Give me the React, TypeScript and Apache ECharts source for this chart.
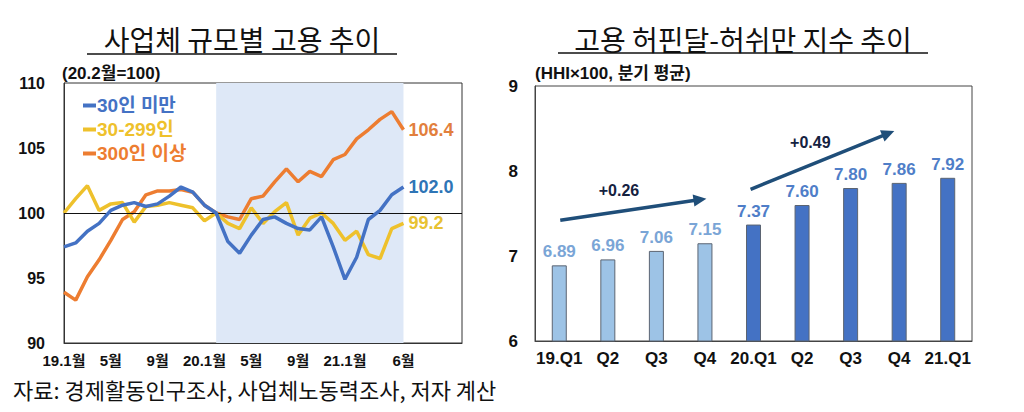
import React, { useEffect, useRef } from "react";
import * as echarts from "echarts";

// ---- Left chart data (index, 20.2 = 100) ----
const months = [
  "19.1", "19.2", "19.3", "19.4", "19.5", "19.6", "19.7", "19.8", "19.9", "19.10", "19.11", "19.12",
  "20.1", "20.2", "20.3", "20.4", "20.5", "20.6", "20.7", "20.8", "20.9", "20.10", "20.11", "20.12",
  "21.1", "21.2", "21.3", "21.4", "21.5", "21.6",
];
const padCategories = ["", "", "", "", ""];
const leftTickIdx = [0, 4, 8, 12, 16, 20, 24, 29];
const leftTickText = ["19.1월", "5월", "9월", "20.1월", "5월", "9월", "21.1월", "6월"];

const under30 = [
  97.4, 97.7, 98.6, 99.2, 100.2, 100.6, 100.8, 100.5, 100.7, 101.3, 102.0, 101.6,
  100.6, 100.0, 97.8, 96.9, 98.3, 99.5, 99.7, 99.2, 98.8, 98.7, 99.7, 97.4,
  94.9, 96.6, 99.5, 100.2, 101.4, 102.0,
];
const from30to299 = [
  100.0, 101.1, 102.1, 100.2, 100.7, 100.8, 99.3, 100.5, 100.6, 100.8, 100.6, 100.4,
  99.4, 100.0, 99.2, 98.8, 100.4, 99.2, 100.1, 100.8, 98.3, 99.6, 100.0, 99.2,
  97.9, 98.6, 96.8, 96.5, 98.8, 99.2,
];
const over300 = [
  93.9, 93.3, 95.1, 96.4, 97.9, 99.5, 100.1, 101.4, 101.7, 101.7, 101.8, 101.6,
  100.6, 100.0, 99.7, 99.5, 101.1, 101.3, 102.4, 103.4, 102.4, 103.2, 102.8, 104.1,
  104.5, 105.7, 106.4, 107.2, 107.8, 106.4,
];
const leftSeriesNames = ["30인 미만", "30-299인", "300인 이상"];
const leftColors = ["#4472C4", "#EEC12C", "#ED7D31"];
const leftEndLabelColors = ["#2E75B6", "#E8C232", "#E27F3D"];
const covidStart = "20.2";
const covidEnd = "21.6";

// ---- Right chart data (HHI x 100, quarterly average) ----
const quarters = ["19.Q1", "Q2", "Q3", "Q4", "20.Q1", "Q2", "Q3", "Q4", "21.Q1"];
const hhi = [6.89, 6.96, 7.06, 7.15, 7.37, 7.6, 7.8, 7.86, 7.92];
const isCovidQuarter = [false, false, false, false, true, true, true, true, true];
const barColors = { pre: "#9DC3E6", covid: "#4472C4" };
const barLabelColors = { pre: "#7AA5D6", covid: "#4F7EC8" };

// annotation arrows (category index, value)
const arrowFrom = [[0.02, 7.42], [3.94, 7.785]];
const arrowTo = [[3.03, 7.675], [6.9, 8.47]];
const arrowText = ["+0.26", "+0.49"];
const arrowTextPos = [[1.23, 7.77], [5.17, 8.34]];

const numFont = "'Liberation Sans', Arial, 'Noto Sans CJK KR', sans-serif";
const krFont = "'Noto Sans CJK KR', sans-serif";

export default function App() {
  const ref = useRef<HTMLDivElement>(null);

  useEffect(() => {
    if (!ref.current) return;
    const chart = echarts.init(ref.current, null, { renderer: "svg" });
    const leftData = [under30, from30to299, over300];

    const option: any = {
      animation: false,
      backgroundColor: "#ffffff",
      grid: [
        { left: 64, top: 83, width: 398, height: 260, show: true, borderColor: "#333", borderWidth: 1, backgroundColor: "transparent" },
        { left: 535, top: 86, width: 437, height: 255, show: true, borderColor: "#444", borderWidth: 1, backgroundColor: "transparent" },
      ],
      legend: {
        orient: "vertical",
        left: 78,
        top: 91,
        icon: "rect",
        itemWidth: 13,
        itemHeight: 4,
        itemGap: 5,
        selectedMode: false,
        textStyle: { fontSize: 19, fontWeight: "bold", fontFamily: numFont, padding: [0, 0, 0, -4] },
        data: leftSeriesNames.map((n, i) => ({ name: n, textStyle: { color: leftColors[i] } })),
      },
      xAxis: [
        {
          gridIndex: 0,
          type: "category",
          boundaryGap: false,
          data: [...months, ...padCategories],
          axisLine: { show: true, lineStyle: { color: "#333" } },
          axisTick: { show: false },
          axisLabel: {
            interval: 0,
            margin: 10,
            fontSize: 15,
            fontWeight: "bold",
            color: "#111",
            fontFamily: numFont,
            formatter: (_v: string, idx: number) => {
              const k = leftTickIdx.indexOf(idx);
              return k >= 0 ? leftTickText[k] : "";
            },
          },
          splitLine: { show: false },
        },
        {
          gridIndex: 1,
          type: "category",
          data: quarters,
          axisLine: { show: true, lineStyle: { color: "#444" } },
          axisTick: { show: false },
          axisLabel: { interval: 0, margin: 9, fontSize: 17, fontWeight: "bold", color: "#111", fontFamily: numFont },
        },
      ],
      yAxis: [
        {
          gridIndex: 0,
          type: "value",
          min: 90,
          max: 110,
          interval: 5,
          axisLine: { show: true, lineStyle: { color: "#333" } },
          axisTick: { show: false },
          splitLine: { show: false },
          axisLabel: { margin: 19, fontSize: 16, fontWeight: "bold", color: "#111", fontFamily: numFont },
        },
        {
          gridIndex: 1,
          type: "value",
          min: 6,
          max: 9,
          interval: 1,
          axisLine: { show: true, lineStyle: { color: "#444" } },
          axisTick: { show: false },
          splitLine: { show: false },
          axisLabel: { margin: 17, fontSize: 17, fontWeight: "bold", color: "#111", fontFamily: numFont },
        },
      ],
      series: [
        ...leftData.map((d, i) => ({
          name: leftSeriesNames[i],
          type: "line",
          xAxisIndex: 0,
          yAxisIndex: 0,
          data: d,
          symbol: "none",
          lineStyle: { color: leftColors[i], width: 3.5 },
          itemStyle: { color: leftColors[i] },
          z: 3 + (2 - i),
          endLabel: {
            show: true,
            distance: 5,
            formatter: (p: any) => Number(p.value).toFixed(1),
            color: leftEndLabelColors[i],
            fontSize: 18,
            fontWeight: "bold",
            fontFamily: numFont,
          },
          ...(i === 0
            ? {
                markArea: {
                  silent: true,
                  itemStyle: { color: "#DEE8F7" },
                  data: [[{ xAxis: covidStart }, { xAxis: covidEnd }]],
                },
                markLine: {
                  silent: true,
                  symbol: "none",
                  label: { show: false },
                  lineStyle: { color: "#111", width: 1, type: "solid" },
                  data: [{ yAxis: 100 }],
                },
              }
            : {}),
        })),
        {
          name: "HHI",
          type: "bar",
          xAxisIndex: 1,
          yAxisIndex: 1,
          barWidth: 15,
          data: hhi.map((v, i) => ({
            value: v,
            itemStyle: {
              color: isCovidQuarter[i] ? barColors.covid : barColors.pre,
              borderColor: "#5B6472",
              borderWidth: 1,
            },
            label: { color: isCovidQuarter[i] ? barLabelColors.covid : barLabelColors.pre },
          })),
          label: {
            show: true,
            position: "top",
            distance: 5,
            fontSize: 17,
            fontWeight: "bold",
            fontFamily: numFont,
            formatter: (p: any) => Number(p.value).toFixed(2),
          },
        },
      ],
    };

    chart.setOption(option);

    const px = (pt: number[]) => {
      const i0 = Math.floor(pt[0]);
      const a = chart.convertToPixel({ gridIndex: 1 }, [i0, pt[1]]) as number[];
      const b = chart.convertToPixel({ gridIndex: 1 }, [i0 + 1, pt[1]]) as number[];
      return [a[0] + (b[0] - a[0]) * (pt[0] - i0), a[1]];
    };

    const arrowEls: any[] = [];
    arrowFrom.forEach((f, k) => {
      const p1 = px(f);
      const p2 = px(arrowTo[k]);
      const dx = p2[0] - p1[0];
      const dy = p2[1] - p1[1];
      const len = Math.hypot(dx, dy);
      const ux = dx / len;
      const uy = dy / len;
      const headL = 13;
      const headW = 6;
      const bx = p2[0] - ux * headL;
      const by = p2[1] - uy * headL;
      arrowEls.push({
        type: "line",
        shape: { x1: p1[0], y1: p1[1], x2: bx + ux * 2, y2: by + uy * 2 },
        style: { stroke: "#1F4E79", lineWidth: 3.5 },
      });
      arrowEls.push({
        type: "polygon",
        shape: {
          points: [
            [p2[0], p2[1]],
            [bx - uy * headW, by + ux * headW],
            [bx + uy * headW, by - ux * headW],
          ],
        },
        style: { fill: "#1F4E79" },
      });
      const tp = px(arrowTextPos[k]);
      arrowEls.push({
        type: "text",
        x: tp[0],
        y: tp[1],
        style: {
          text: arrowText[k],
          fontSize: 16,
          fontWeight: "bold",
          fontFamily: numFont,
          fill: "#15223F",
          align: "center",
          verticalAlign: "middle",
        },
      });
    });

    chart.setOption({
      graphic: [
        {
          type: "text",
          x: 242,
          y: 39,
          style: { text: "사업체 규모별 고용 추이", fontSize: 28, fontFamily: krFont, fill: "#111", align: "center", verticalAlign: "middle" },
        },
        { type: "line", shape: { x1: 87, y1: 54, x2: 397, y2: 54 }, style: { stroke: "#111", lineWidth: 1.5 } },
        {
          type: "text",
          x: 743,
          y: 39,
          style: { text: "고용 허핀달-허쉬만 지수 추이", fontSize: 28, fontFamily: krFont, fill: "#111", align: "center", verticalAlign: "middle" },
        },
        { type: "line", shape: { x1: 558, y1: 53, x2: 928, y2: 53 }, style: { stroke: "#111", lineWidth: 1.5 } },
        {
          type: "text",
          x: 62,
          y: 73,
          style: { text: "(20.2월=100)", fontSize: 17, fontWeight: "bold", fontFamily: numFont, fill: "#111", verticalAlign: "middle" },
        },
        {
          type: "text",
          x: 535,
          y: 73,
          style: { text: "(HHI×100, 분기 평균)", fontSize: 17, fontWeight: "bold", fontFamily: numFont, fill: "#111", verticalAlign: "middle" },
        },
        {
          type: "text",
          x: 313,
          y: 102,
          style: { text: "(코로나19 시기)", fontSize: 19, fontWeight: "bold", fontFamily: numFont, fill: "#1F2F5C", align: "center", verticalAlign: "middle" },
        },
        {
          type: "text",
          x: 13,
          y: 389,
          style: { text: "자료: 경제활동인구조사, 사업체노동력조사, 저자 계산", fontSize: 22, fontFamily: krFont, fill: "#111", verticalAlign: "middle" },
        },
        ...arrowEls,
      ],
    });

    return () => {
      chart.dispose();
    };
  }, []);

  return (
    <div
      ref={ref}
      style={{ position: "absolute", left: 0, top: 0, width: 1024, height: 412, background: "#fff" }}
    />
  );
}
